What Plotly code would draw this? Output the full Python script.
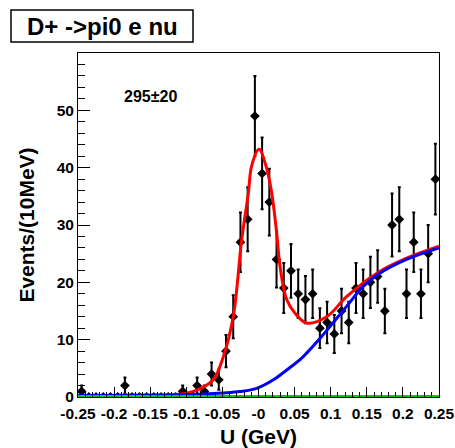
import plotly.graph_objects as go
import numpy as np

# --- data ---
bin_centers = [round(-0.245 + 0.01 * i, 3) for i in range(50)]
counts = [1, 0, 0, 0, 0, 0, 2, 0, 0, 0,
          0, 0, 0, 0, 1, 0, 2, 1, 4, 3,
          8, 14, 27, 31, 49, 39, 34, 24, 19, 22,
          18, 17, 18, 12, 13, 11, 15, 13, 19, 18,
          20, 21, 15, 30, 31, 18, 27, 18, 25, 38]
errors = [float(np.sqrt(c)) for c in counts]

total_x = [-0.25, -0.2, -0.15, -0.12, -0.0995, -0.08, -0.0626, -0.0488, -0.035, -0.0233,
           -0.014, -0.0095, 0.0007, 0.0104, 0.0183, 0.0252, 0.0298, 0.039, 0.0506, 0.0667,
           0.0944, 0.122, 0.164, 0.205, 0.25]
total_y = [0.25, 0.28, 0.32, 0.4, 0.65, 1.5, 3.0, 7.0, 14.0, 27.4,
           35.6, 40.3, 43.2, 40.3, 35.6, 28.6, 22.8, 17.0, 14.6, 12.9,
           14.0, 17.5, 21.6, 24.2, 26.3]

bkg_x = [-0.25, -0.15, -0.1, -0.05, -0.025, -0.0025, 0.0206, 0.044, 0.0575, 0.067,
         0.085, 0.099, 0.122, 0.145, 0.168, 0.205, 0.25]
bkg_y = [0.25, 0.3, 0.4, 0.7, 0.95, 1.5, 3.0, 5.2, 6.5, 7.7,
         10.2, 12.3, 15.8, 19.3, 21.6, 24.0, 26.0]

peak_bkg_x = [-0.25, 0.25]
peak_bkg_y = [0.0, 0.0]

xtick_vals = [-0.25, -0.2, -0.15, -0.1, -0.05, 0.0, 0.05, 0.1, 0.15, 0.2, 0.25]
xtick_text = ["-0.25", "-0.2", "-0.15", "-0.1", "-0.05", "-0", "0.05", "0.1", "0.15", "0.2", "0.25"]
ytick_vals = [0, 10, 20, 30, 40, 50]

title_text = "D+ ->pi0 e nu"
yield_text = "295\u00b120"

FONT = "Liberation Sans, Arial, Helvetica, sans-serif"

# plot area in pixels (for placing layout decorations)
L, R, T, B = 78, 439, 53, 397
def px(xp):
    return (xp - L) / (R - L)
def py(yp):
    return (B - yp) / (B - T)

fig = go.Figure()
fig.add_trace(go.Scatter(
    x=bin_centers, y=counts, mode="markers",
    marker=dict(symbol="diamond", size=7.5, color="black"),
    error_y=dict(type="data", array=errors, visible=True, color="black", thickness=2, width=1.5),
    showlegend=False))
fig.add_trace(go.Scatter(x=total_x, y=total_y, mode="lines", line=dict(color="#ff0000", width=3, shape="spline"),
                         showlegend=False))
fig.add_trace(go.Scatter(x=bkg_x, y=bkg_y, mode="lines", line=dict(color="#0000ff", width=3, shape="spline"),
                         showlegend=False))
fig.add_trace(go.Scatter(x=peak_bkg_x, y=peak_bkg_y, mode="lines", line=dict(color="#00cc00", width=4),
                         showlegend=False))

fig.update_layout(
    width=455, height=448,
    margin=dict(l=L, r=455 - R, t=T, b=448 - B, autoexpand=False),
    paper_bgcolor="white", plot_bgcolor="white",
    font=dict(family=FONT, color="black", weight="bold"),
    xaxis=dict(range=[-0.25, 0.25], tickvals=xtick_vals, ticktext=xtick_text, tickangle=0,
               ticks="inside", ticklen=10, tickwidth=1, tickcolor="black",
               minor=dict(dtick=0.01, ticks="inside", ticklen=5, tickcolor="black", tickwidth=1),
               showline=True, linecolor="black", linewidth=1, mirror=True,
               showgrid=False, zeroline=False, automargin=False, ticklabelstandoff=2,
               tickfont=dict(size=15.5, family=FONT, weight="bold"),
               title=dict(text="U (GeV)", font=dict(size=21, family=FONT, weight="bold"), standoff=10)),
    yaxis=dict(range=[0, 60], tickvals=ytick_vals,
               ticks="inside", ticklen=12, tickwidth=1, tickcolor="black",
               minor=dict(dtick=2, ticks="inside", ticklen=7, tickcolor="black", tickwidth=1),
               showline=True, linecolor="black", linewidth=1, mirror=True,
               showgrid=False, zeroline=False, automargin=False,
               tickfont=dict(size=15.5, family=FONT, weight="bold"),
               title=dict(text="Events/(10MeV)", font=dict(size=21, family=FONT, weight="bold"), standoff=16)),
)

fig.add_shape(type="rect", xref="paper", yref="paper",
              x0=px(11), x1=px(193), y0=py(42), y1=py(10),
              line=dict(color="black", width=1.5), fillcolor="white", layer="above")
fig.add_annotation(text=title_text, xref="paper", yref="paper",
                   x=px(102), y=py(26), xanchor="center", yanchor="middle", showarrow=False,
                   font=dict(size=24, family=FONT, weight="bold", color="black"))
fig.add_annotation(text=yield_text, xref="paper", yref="paper",
                   x=px(150), y=py(96), xanchor="center", yanchor="middle", showarrow=False,
                   font=dict(size=16, family=FONT, weight="bold", color="black"))

fig.write_html("out.html")
